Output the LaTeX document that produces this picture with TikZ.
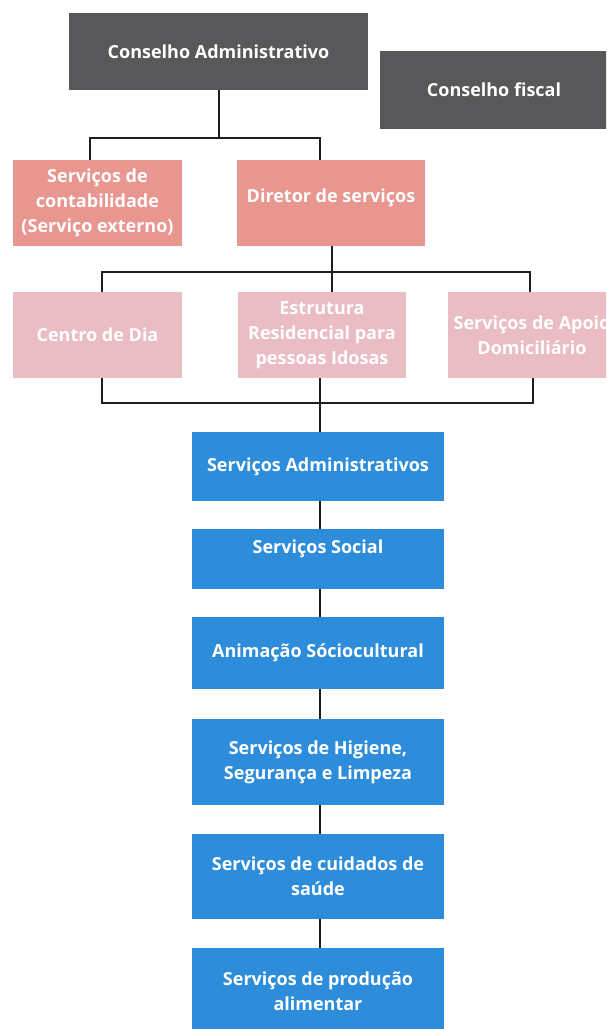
\documentclass[tikz,border=0pt]{standalone}
\usepackage{fontspec}
\setmainfont{Open Sans}[BoldFont={* Bold}]
\definecolor{cgray}{HTML}{58585A}
\definecolor{csalmon}{HTML}{E8968F}
\definecolor{cpink}{HTML}{EABCC4}
\definecolor{cblue}{HTML}{2E8DDA}
\definecolor{cline}{HTML}{1E1E1E}
\tikzset{
  orgbox/.style={rectangle, draw=none, text=white, align=center, inner sep=0pt,
    font=\bfseries\fontsize{18}{25}\selectfont},
  graybox/.style={orgbox, fill=cgray},
  salmonbox/.style={orgbox, fill=csalmon},
  pinkbox/.style={orgbox, fill=cpink},
  bluebox/.style={orgbox, fill=cblue, minimum width=252},
  conn/.style={draw=cline, line width=2pt}
}
\begin{document}
\begin{tikzpicture}[x=1pt,y=1pt]
\useasboundingbox (0,0) rectangle (606,-1029);
\fill[white] (0,0) rectangle (606,-1029);
\clip (0,0) rectangle (606,-1029);
% top level
\node[graybox, minimum width=299, minimum height=77] (ca) at (218.5,-51.5) {Conselho Administrativo};
\node[graybox, minimum width=228, minimum height=78] (cf) at (494,-90) {Conselho fiscal};
% second level
\node[salmonbox, minimum width=169, minimum height=86] (cont) at (97.5,-203) {Serviços de\\contabilidade\\(Serviço externo)};
\node[salmonbox, minimum width=188, minimum height=86] (dir) at (331,-203) {\raisebox{14pt}{Diretor de serviços}};
% third level
\node[pinkbox, minimum width=169, minimum height=86] (centro) at (97.5,-335) {Centro de Dia};
\node[pinkbox, minimum width=168, minimum height=86] (estr) at (322,-335) {Estrutura\\Residencial para\\pessoas Idosas};
\node[pinkbox, minimum width=168, minimum height=86] (sad) at (532,-335) {Serviços de Apoio\\Domiciliário};
% services
\node[bluebox, minimum height=69] (b1) at (318,-466.5) {Serviços Administrativos};
\node[bluebox, minimum height=60] (b2) at (318,-559) {\raisebox{24pt}{Serviços Social}};
\node[bluebox, minimum height=72] (b3) at (318,-653) {Animação Sóciocultural};
\node[bluebox, minimum height=86] (b4) at (318,-762) {Serviços de Higiene,\\Segurança e Limpeza};
\node[bluebox, minimum height=85] (b5) at (318,-876.5) {Serviços de cuidados de\\saúde};
\node[bluebox, minimum height=86] (b6) at (318,-991) {Serviços de produção\\alimentar};
% junction coordinates
\coordinate (h1l) at (90,-138);
\coordinate (h1r) at (320,-138);
\coordinate (h2l) at (102,-272);
\coordinate (h2m) at (332,-272);
\coordinate (h2r) at (530,-272);
\coordinate (h3l) at (102,-403);
\coordinate (h3m) at (320,-403);
\coordinate (h3r) at (533,-403);
% connectors
\draw[conn] (ca.south) -- (ca.south |- h1l);
\draw[conn] (cont.north -| h1l) |- (h1r) -- (dir.north -| h1r);
\draw[conn] (dir.south -| h2m) -- (estr.north -| h2m);
\draw[conn] (centro.north -| h2l) |- (h2r) -- (sad.north -| h2r);
\draw[conn] (centro.south -| h3l) |- (h3r) -- (sad.south -| h3r);
\draw[conn] (estr.south -| h3m) -- (b1.north -| h3m);
\draw[conn] (b1.south -| h3m) -- (b2.north -| h3m);
\draw[conn] (b2.south -| h3m) -- (b3.north -| h3m);
\draw[conn] (b3.south -| h3m) -- (b4.north -| h3m);
\draw[conn] (b4.south -| h3m) -- (b5.north -| h3m);
\draw[conn] (b5.south -| h3m) -- (b6.north -| h3m);
\end{tikzpicture}
\end{document}
